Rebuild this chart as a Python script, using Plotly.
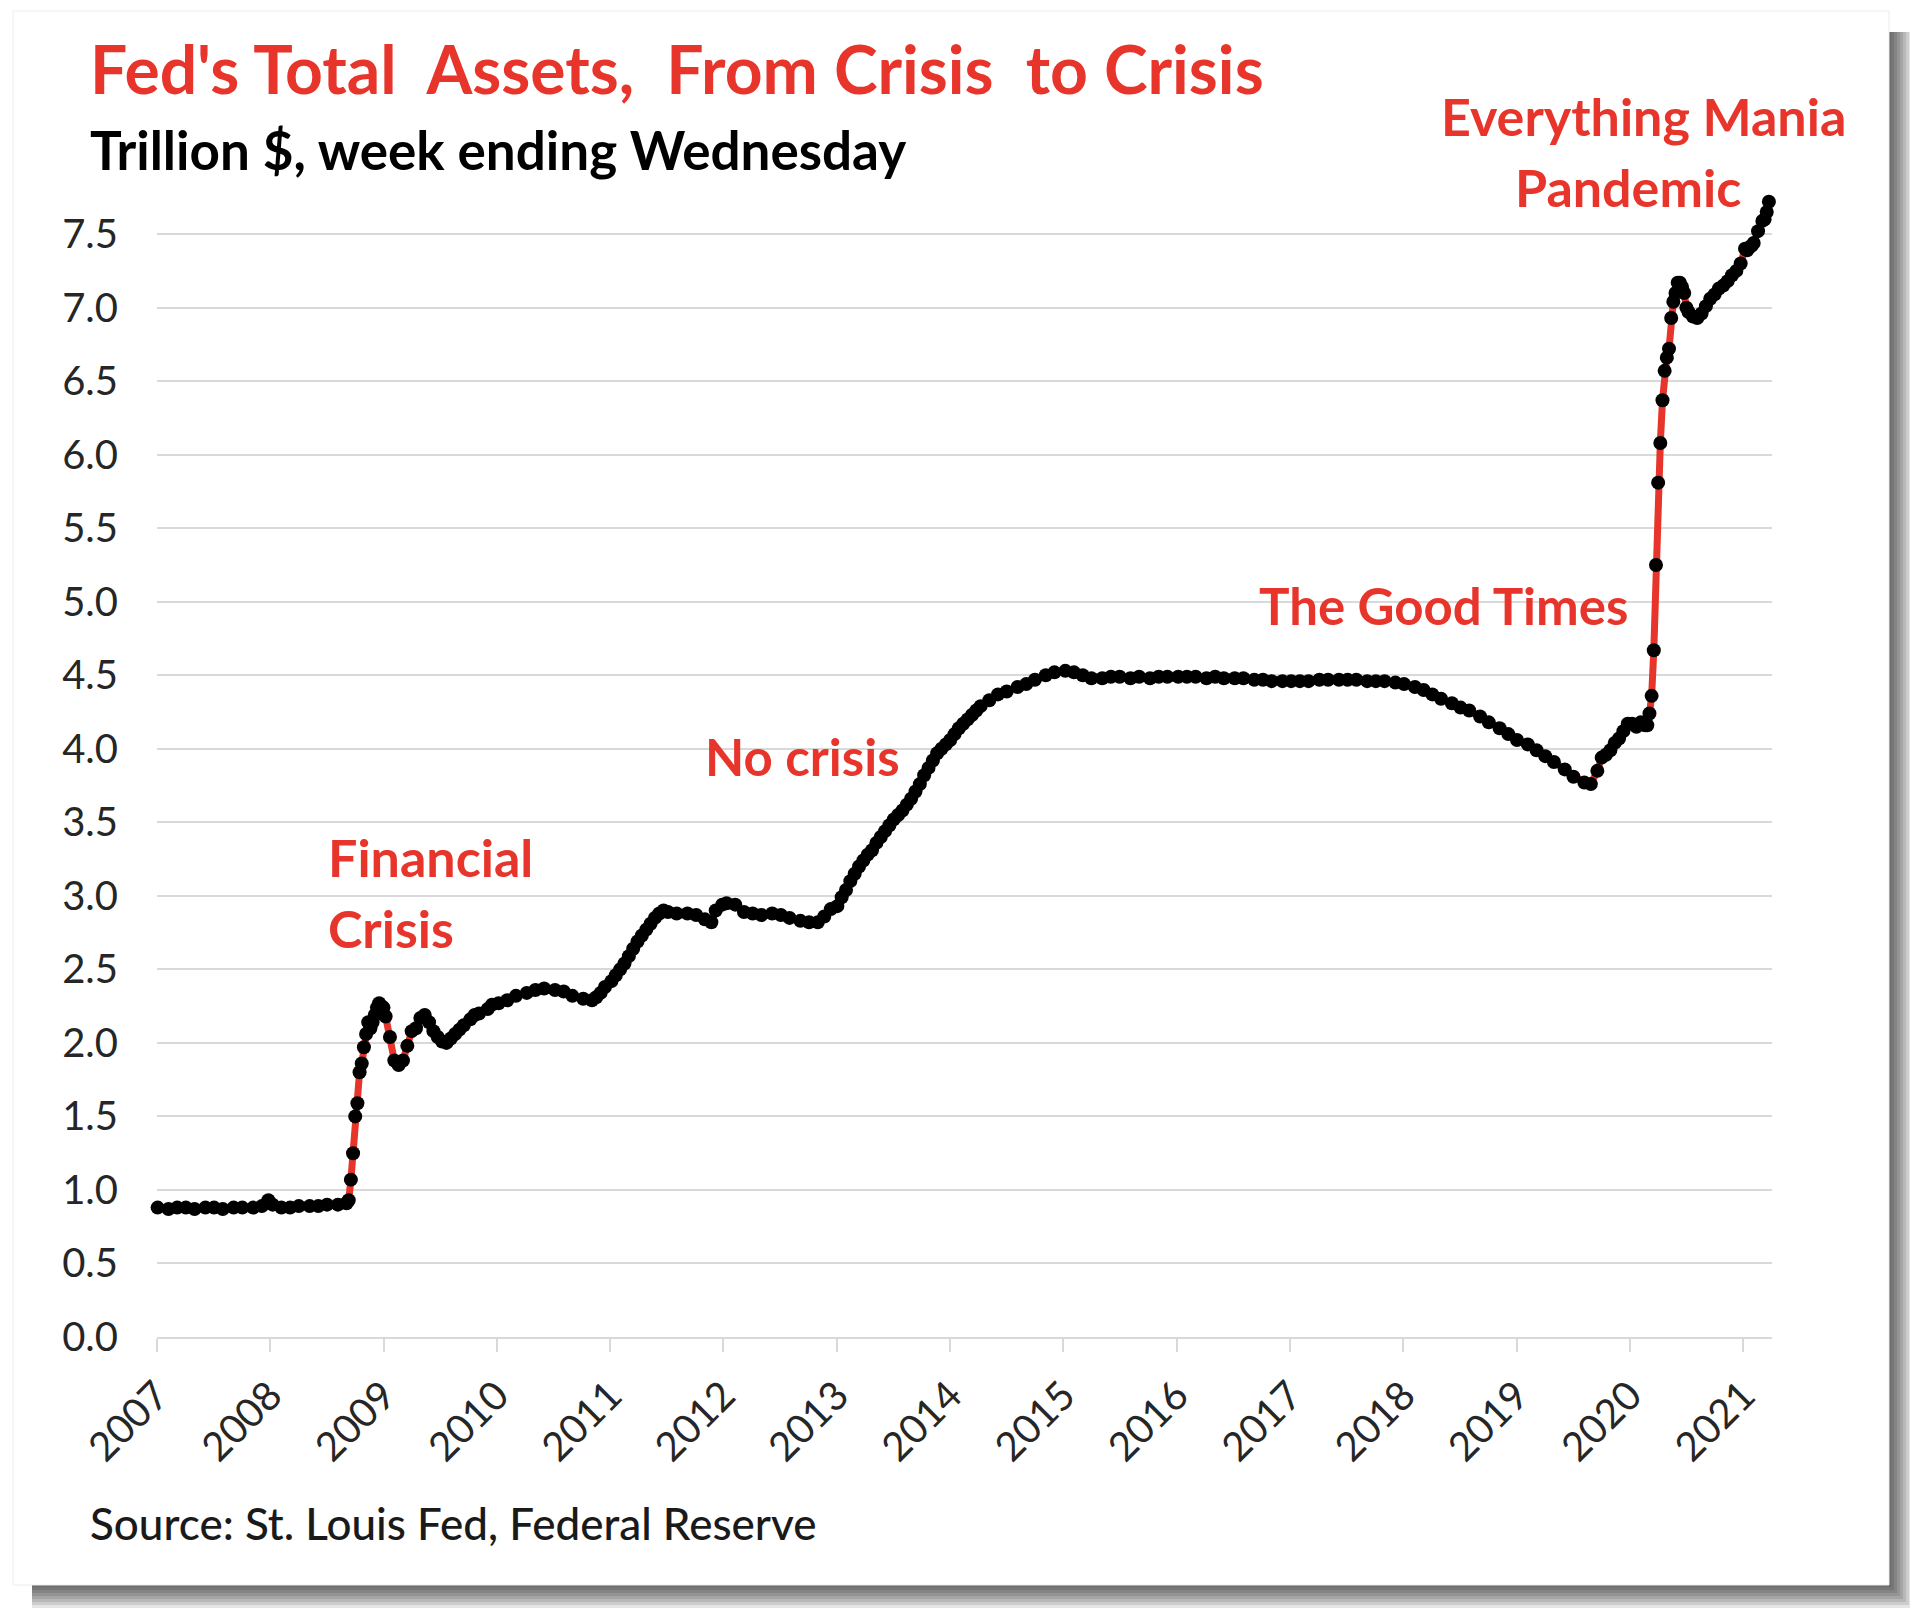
import plotly.graph_objects as go

# Fed total assets (trillion $), week ending Wednesday
week_ending = [
    "2007-01-03", "2007-02-07", "2007-03-07", "2007-04-04", "2007-05-02", "2007-06-06",
    "2007-07-04", "2007-08-01", "2007-09-05", "2007-10-03", "2007-11-07", "2007-12-05",
    "2007-12-26",
    "2008-01-09", "2008-02-06", "2008-03-05", "2008-04-02", "2008-05-07", "2008-06-04",
    "2008-07-02", "2008-08-06", "2008-09-03", "2008-09-10", "2008-09-17", "2008-09-24",
    "2008-10-01", "2008-10-08", "2008-10-15", "2008-10-22", "2008-10-29", "2008-11-05",
    "2008-11-12", "2008-11-19", "2008-11-26", "2008-12-03", "2008-12-10", "2008-12-17",
    "2008-12-24", "2008-12-31",
    "2009-01-07", "2009-01-21", "2009-02-04", "2009-02-18", "2009-03-04", "2009-03-18",
    "2009-04-01", "2009-04-15", "2009-04-29", "2009-05-13", "2009-05-27", "2009-06-10",
    "2009-06-24", "2009-07-08", "2009-07-22", "2009-08-05", "2009-08-19", "2009-09-02",
    "2009-09-16", "2009-10-07", "2009-10-21", "2009-11-04", "2009-12-02", "2009-12-16",
    "2010-01-06", "2010-02-03", "2010-03-03", "2010-04-07", "2010-05-05", "2010-06-02",
    "2010-07-07", "2010-08-04", "2010-09-01", "2010-10-06", "2010-11-03", "2010-11-17",
    "2010-12-01", "2010-12-15",
    "2011-01-05", "2011-01-19", "2011-02-02", "2011-02-16", "2011-03-02", "2011-03-16",
    "2011-03-30", "2011-04-13", "2011-04-27", "2011-05-11", "2011-05-25", "2011-06-08",
    "2011-06-22", "2011-07-06", "2011-08-03", "2011-09-07", "2011-10-05", "2011-11-02",
    "2011-11-23", "2011-12-07", "2011-12-28",
    "2012-01-11", "2012-02-08", "2012-03-07", "2012-04-04", "2012-05-02", "2012-06-06",
    "2012-07-04", "2012-08-01", "2012-09-05", "2012-10-03", "2012-10-31", "2012-11-21",
    "2012-12-12",
    "2013-01-02", "2013-01-16", "2013-01-30", "2013-02-13", "2013-02-27", "2013-03-13",
    "2013-03-27", "2013-04-10", "2013-04-24", "2013-05-08", "2013-05-22", "2013-06-05",
    "2013-06-19", "2013-07-03", "2013-07-17", "2013-07-31", "2013-08-14", "2013-08-28",
    "2013-09-11", "2013-09-25", "2013-10-09", "2013-10-23", "2013-11-06", "2013-11-20",
    "2013-12-04", "2013-12-18",
    "2014-01-01", "2014-01-15", "2014-01-29", "2014-02-12", "2014-02-26", "2014-03-12",
    "2014-03-26", "2014-04-09", "2014-05-07", "2014-06-04", "2014-07-02", "2014-08-06",
    "2014-09-03", "2014-10-01", "2014-11-05", "2014-12-03",
    "2015-01-07", "2015-02-04", "2015-03-04", "2015-04-01", "2015-05-06", "2015-06-03",
    "2015-07-01", "2015-08-05", "2015-09-02", "2015-10-07", "2015-11-04", "2015-12-02",
    "2016-01-06", "2016-02-03", "2016-03-02", "2016-04-06", "2016-05-04", "2016-06-01",
    "2016-07-06", "2016-08-03", "2016-09-07", "2016-10-05", "2016-11-02", "2016-12-07",
    "2017-01-04", "2017-02-01", "2017-03-01", "2017-04-05", "2017-05-03", "2017-06-07",
    "2017-07-05", "2017-08-02", "2017-09-06", "2017-10-04", "2017-11-01", "2017-12-06",
    "2018-01-03", "2018-02-07", "2018-03-07", "2018-04-04", "2018-05-02", "2018-06-06",
    "2018-07-04", "2018-08-01", "2018-09-05", "2018-10-03", "2018-11-07", "2018-12-05",
    "2019-01-02", "2019-02-06", "2019-03-06", "2019-04-03", "2019-05-01", "2019-06-05",
    "2019-07-03", "2019-08-07", "2019-08-28", "2019-09-18", "2019-10-02", "2019-10-16",
    "2019-10-30", "2019-11-13", "2019-11-27", "2019-12-11", "2019-12-25",
    "2020-01-08", "2020-01-22", "2020-02-05", "2020-02-19", "2020-02-26", "2020-03-04",
    "2020-03-11", "2020-03-18", "2020-03-25", "2020-04-01", "2020-04-08", "2020-04-15",
    "2020-04-22", "2020-04-29", "2020-05-06", "2020-05-13", "2020-05-20", "2020-05-27",
    "2020-06-03", "2020-06-10", "2020-06-17", "2020-06-24", "2020-07-01", "2020-07-08",
    "2020-07-22", "2020-08-05", "2020-08-19", "2020-09-02", "2020-09-16", "2020-09-30",
    "2020-10-14", "2020-10-28", "2020-11-11", "2020-11-25", "2020-12-09", "2020-12-23",
    "2021-01-06", "2021-01-13", "2021-01-20", "2021-01-27", "2021-02-03", "2021-02-17",
    "2021-03-03", "2021-03-10", "2021-03-17", "2021-03-24",
]

total_assets = [
    0.88, 0.87, 0.88, 0.88, 0.87, 0.88,
    0.88, 0.87, 0.88, 0.88, 0.88, 0.89,
    0.93,
    0.90, 0.88, 0.88, 0.89, 0.89, 0.89,
    0.90, 0.90, 0.91, 0.93, 1.07, 1.25,
    1.50, 1.59, 1.80, 1.86, 1.97, 2.06,
    2.14, 2.10, 2.14, 2.19, 2.24, 2.27,
    2.25, 2.24,
    2.18, 2.04, 1.88, 1.85, 1.88, 1.98,
    2.08, 2.10, 2.17, 2.19, 2.14, 2.08,
    2.04, 2.01, 2.00, 2.03, 2.06, 2.09,
    2.12, 2.16, 2.19, 2.20, 2.23, 2.26,
    2.27, 2.29, 2.32, 2.34, 2.36, 2.37,
    2.36, 2.35, 2.32, 2.30, 2.29, 2.31,
    2.34, 2.38,
    2.42, 2.46, 2.50, 2.54, 2.59, 2.64,
    2.69, 2.73, 2.77, 2.81, 2.85, 2.88,
    2.90, 2.89, 2.88, 2.88, 2.87, 2.84,
    2.82, 2.90, 2.94,
    2.95, 2.94, 2.89, 2.88, 2.87, 2.88,
    2.87, 2.85, 2.83, 2.82, 2.82, 2.86,
    2.91,
    2.93, 2.99, 3.04, 3.10, 3.15, 3.20,
    3.24, 3.28, 3.31, 3.36, 3.40, 3.44,
    3.48, 3.52, 3.55, 3.58, 3.62, 3.66,
    3.71, 3.76, 3.82, 3.87, 3.92, 3.97,
    4.00, 4.03,
    4.06, 4.10, 4.14, 4.17, 4.20, 4.23,
    4.26, 4.29, 4.33, 4.37, 4.39, 4.42,
    4.44, 4.47, 4.50, 4.52,
    4.53, 4.52, 4.50, 4.48, 4.48, 4.49,
    4.49, 4.48, 4.49, 4.48, 4.49, 4.49,
    4.49, 4.49, 4.49, 4.48, 4.49, 4.48,
    4.48, 4.48, 4.47, 4.47, 4.46, 4.46,
    4.46, 4.46, 4.46, 4.47, 4.47, 4.47,
    4.47, 4.47, 4.46, 4.46, 4.46, 4.45,
    4.44, 4.42, 4.40, 4.37, 4.34, 4.31,
    4.28, 4.26, 4.22, 4.18, 4.14, 4.10,
    4.06, 4.03, 3.99, 3.95, 3.91, 3.86,
    3.81, 3.77, 3.76, 3.85, 3.94, 3.96,
    3.99, 4.04, 4.07, 4.12, 4.17,
    4.17, 4.15, 4.18, 4.16, 4.16, 4.24,
    4.36, 4.67, 5.25, 5.81, 6.08, 6.37,
    6.57, 6.66, 6.72, 6.93, 7.04, 7.10,
    7.17, 7.17, 7.14, 7.10, 7.00, 6.97,
    6.94, 6.93, 6.96, 7.01, 7.06, 7.09,
    7.13, 7.15, 7.18, 7.22, 7.25, 7.30,
    7.40, 7.39, 7.41, 7.42, 7.44, 7.52,
    7.59, 7.60, 7.65, 7.72,
]

y_ticks = [0.0, 0.5, 1.0, 1.5, 2.0, 2.5, 3.0, 3.5, 4.0, 4.5, 5.0, 5.5, 6.0, 6.5, 7.0, 7.5]

RED = "#e8352b"
FONT = "Lato"

# page body adds an 8px offset, so the figure is drawn 8px smaller
OFF = 8
W, H = 1918 - OFF, 1618 - OFF
L, R, T, B = 157 - OFF, 146, 190 - OFF, 281


def px_x(x):
    # x given in screenshot pixels
    return (x - OFF - L) / (W - L - R)


def px_y(y):
    return (H - B - (y - OFF)) / (H - T - B)


fig = go.Figure()
fig.add_trace(go.Scatter(
    x=week_ending, y=total_assets, mode="lines+markers",
    line=dict(color=RED, width=7),
    marker=dict(color="black", size=14),
    cliponaxis=False, showlegend=False,
))

# card with drop shadow
shapes = []
for k in [2, 5, 8, 11, 14, 17, 20, 23]:
    shapes.append(dict(type="rect", xref="paper", yref="paper", layer="below",
                       x0=px_x(32), x1=px_x(1889 + k), y0=px_y(1585 + k), y1=px_y(32),
                       fillcolor="black", opacity=0.1, line=dict(width=0)))
shapes.append(dict(type="rect", xref="paper", yref="paper", layer="below",
                   x0=px_x(13), x1=px_x(1889), y0=px_y(1585), y1=px_y(11),
                   fillcolor="white", line=dict(color="#ececec", width=1)))

notes = [
    ("<b>Fed's Total \u00a0Assets, \u00a0From Crisis \u00a0to Crisis</b>", 88, 69, 66, RED, "left"),
    ("<b>Trillion $, week ending Wednesday</b>", 88, 150, 53, "black", "left"),
    ("<b>Everything Mania</b>", 1643, 116, 52, RED, "center"),
    ("<b>Pandemic</b>", 1628, 187, 52, RED, "center"),
    ("<b>The Good Times</b>", 1443, 605, 51, RED, "center"),
    ("<b>No crisis</b>", 802, 756, 51, RED, "center"),
    ("<b>Financial</b>", 326, 857, 52, RED, "left"),
    ("<b>Crisis</b>", 326, 928, 52, RED, "left"),
    ("Source: St. Louis Fed, Federal Reserve", 88, 1523, 44, "#1a1a1a", "left"),
]
annotations = []
for text, x, y, size, color, anchor in notes:
    annotations.append(dict(text=text, x=px_x(x), y=px_y(y), xref="paper", yref="paper",
                            xanchor=anchor, yanchor="middle", showarrow=False,
                            font=dict(family=FONT, size=size, color=color)))
annotations[-1]["font"]["weight"] = 500

fig.update_layout(
    width=W, height=H,
    margin=dict(l=L, r=R, t=T, b=B),
    paper_bgcolor="white", plot_bgcolor="rgba(0,0,0,0)",
    shapes=shapes, annotations=annotations,
    font=dict(family=FONT, color="#262626"),
)
fig.update_xaxes(
    type="date", range=["2007-01-01", "2021-04-03"],
    dtick="M12", tick0="2007-01-01", tickformat="%Y", tickangle=-45,
    ticks="outside", ticklen=13, tickwidth=2, tickcolor="#d9d9d9",
    showline=True, linecolor="#d9d9d9", linewidth=2, showgrid=False,
    tickfont=dict(size=40, color="#262626"), ticklabelstandoff=4,
)
fig.update_yaxes(
    range=[0, 7.8], tickvals=y_ticks, tickformat=".1f",
    showgrid=True, gridcolor="#d9d9d9", gridwidth=2, zeroline=False,
    showline=False, ticks="", tickfont=dict(size=40, color="#262626"),
    ticklabelstandoff=38,
)

fig.write_html("out.html")
